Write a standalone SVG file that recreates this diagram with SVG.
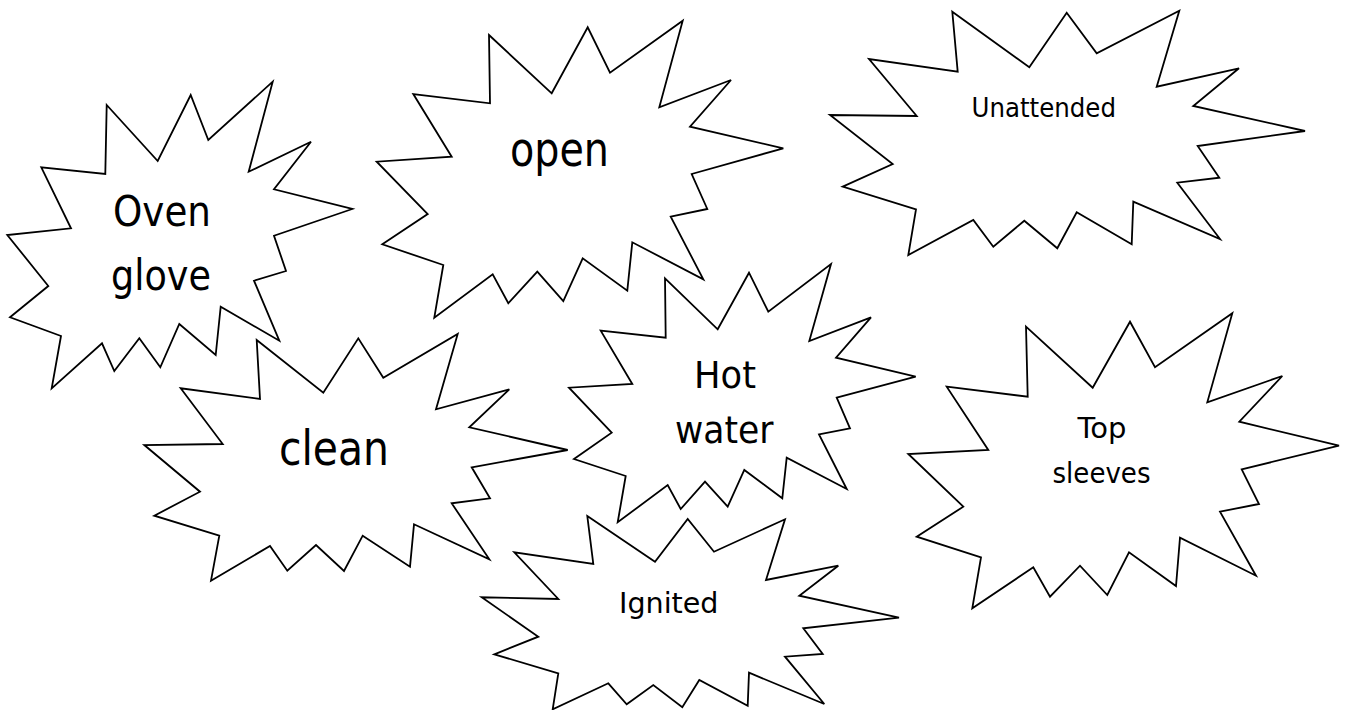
<svg xmlns="http://www.w3.org/2000/svg" width="1349" height="710" viewBox="0 0 1349 710">
<style>
.star{fill:#fff;stroke:#000;stroke-width:1.8;stroke-linejoin:miter}
.t{font-family:"DejaVu Sans","Liberation Sans",sans-serif;fill:#000}
</style>
<rect width="1349" height="710" fill="#fff"/>
<g id="connectors"/>
<g id="node-oven-glove">
<polygon class="star" points="106.7,105 157.7,161 190.7,95 208.3,140 272.7,81.7 248.7,171.7 311,141.7 274,189.3 352.3,209 274,235.7 286,271 254,280.7 279.3,340.7 220.7,306.7 215.7,355 179.3,324 160.3,367.3 139.3,338.3 114.3,371 102,343.3 51.7,388.3 61,336 10,317.3 48.3,286 7.3,235 71,228.3 41.3,167.3 105.3,174"/>
<text class="t" x="113" y="226" font-size="42" textLength="98" lengthAdjust="spacingAndGlyphs">Oven</text>
<text class="t" x="111" y="290" font-size="42" textLength="100" lengthAdjust="spacingAndGlyphs">glove</text>
</g>
<g id="node-open">
<polygon class="star" points="489,35 551.7,93.3 587.7,27.3 610,72.7 682.7,20.7 659.3,107.3 731,80 690,126.7 783.3,148.3 691.7,174 707.3,209 670.7,216.7 703.3,279.3 632.3,242.3 627.3,290.7 582.7,258.3 563.3,301 537.3,271.7 508.3,303.3 492.7,274.3 434.3,317.7 443.3,265 382.3,244.3 427.7,214 376.7,161.7 451.7,156.7 413.3,94 490,103.3"/>
<text class="t" x="510" y="166" font-size="48" textLength="99" lengthAdjust="spacingAndGlyphs">open</text>
</g>
<g id="node-unattended">
<polygon class="star" points="952.3,11.7 1029.3,67.3 1066.7,12.7 1096.7,53.3 1179.3,10.7 1156.7,86.7 1239,68.3 1193.3,106 1305,131 1197.7,146 1219.3,177.7 1177.3,182.7 1220,239 1133.3,201.7 1131.7,244.3 1076.7,212.3 1057.3,248.3 1024.3,220.7 993.3,246.7 973.3,220 908.3,255 916,209.3 842.7,186.7 892.7,164 830,115 916.7,116 869,59 957.7,71.7"/>
<text class="t" x="971.5" y="117.3" font-size="26" textLength="144.5" lengthAdjust="spacingAndGlyphs">Unattended</text>
</g>
<g id="node-clean">
<polygon class="star" points="256.7,340 323.3,392.7 358.3,338.3 383.3,377.7 457.7,334 436,409.3 509.3,389.3 469.3,427.3 567.7,450 471.7,467.3 490,498.3 451.7,503.3 489.3,559.3 414,524.3 410,566.7 362.7,535.7 344,571 316,545 287.3,570.7 270,546 211,580.7 219.3,535.7 154.3,515.7 200,491.7 144.3,445 222.7,444 180.7,388.3 260,399"/>
<text class="t" x="279" y="465" font-size="48" textLength="110" lengthAdjust="spacingAndGlyphs">clean</text>
</g>
<g id="node-hot-water">
<polygon class="star" points="665,278.3 717.7,329.3 749,272.7 768.3,311.7 831,264 809.3,341 871,317.3 836,357.7 915.7,376.7 836.7,397.7 850,428.3 819,434.3 846.7,489 786.7,457.7 782.3,498.3 744.3,470 727.7,506.7 705,481.7 680.7,509 667.7,485 617.7,522.3 625.7,476 574,459 611.7,432.7 569,387.7 632.3,384 600.7,330.7 665.7,337.7"/>
<text class="t" x="694" y="388.3" font-size="38" textLength="62" lengthAdjust="spacingAndGlyphs">Hot</text>
<text class="t" x="675" y="442.7" font-size="38" textLength="98.5" lengthAdjust="spacingAndGlyphs">water</text>
</g>
<g id="node-top-sleeves">
<polygon class="star" points="1026,326.7 1092.7,387.7 1130,321.7 1155,367.3 1232.3,313.3 1207.3,402.3 1282.3,376 1239.3,421.7 1339,445.7 1241.7,469.3 1259,504 1220,511.7 1256,575.7 1180,537.7 1176,586 1129,552.3 1107.3,595 1080,565.7 1050,596.7 1033.3,567.3 972.3,608.3 981,557.3 916.7,536.7 963.3,506.7 908.3,454 988.3,450 946.7,386.7 1027.7,396.7"/>
<text class="t" x="1077.5" y="438.3" font-size="28" textLength="49" lengthAdjust="spacingAndGlyphs">Top</text>
<text class="t" x="1052.5" y="482.7" font-size="28" textLength="98" lengthAdjust="spacingAndGlyphs">sleeves</text>
</g>
<g id="node-ignited">
<polygon class="star" points="587.3,516 655,561.7 687.7,519 714,551.7 785,519.3 766,580 838.3,565.7 799.3,595.7 899,617.7 803.3,628.3 822.7,654 785,656.7 824.3,704 749,672.7 747.7,705.7 699.3,680 682.3,707.3 653.3,685 626.7,704.3 608.3,683.3 552.7,709.3 558.3,673.3 494.3,654.3 538.3,636.7 481.7,597.3 558.3,599 514.3,552.3 593.3,564"/>
<text class="t" x="619" y="612.7" font-size="28" textLength="99.5" lengthAdjust="spacingAndGlyphs">Ignited</text>
</g>
</svg>
